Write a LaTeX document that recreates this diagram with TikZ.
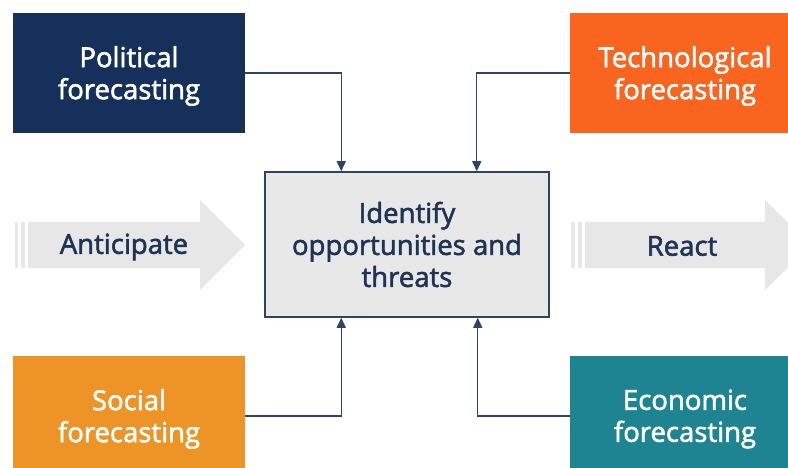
\documentclass[tikz,border=0pt]{standalone}
\usepackage{fontspec}
\setmainfont{Open Sans}
\newfontfamily\labelfont{Open Sans}[BoldFont={Open Sans}, BoldFeatures={FakeBold=2}]
\usetikzlibrary{arrows.meta}
\definecolor{navy}{HTML}{15305A}
\definecolor{linenavy}{HTML}{2D4468}
\definecolor{textnavy}{HTML}{1E3456}
\definecolor{techorange}{HTML}{F9641F}
\definecolor{socorange}{HTML}{EE9426}
\definecolor{ecoteal}{HTML}{1E8491}
\definecolor{coregray}{HTML}{E8E8E8}
\definecolor{arrowgray}{HTML}{E7E7E7}
\tikzset{
  x=1pt, y=-1pt,
  txt/.style={font=\labelfont\bfseries\fontsize{27.5}{32}\selectfont, align=center},
  forecast/.style={minimum width=232pt, minimum height=120pt, inner sep=0pt},
  boxtext/.style={txt, text=white, yshift=-3pt},
  core/.style={txt, text=textnavy, draw=linenavy, line width=1.5pt, fill=coregray,
    minimum width=284pt, minimum height=145pt, inner sep=0pt},
  conn/.style={draw=linenavy, line width=1.4pt, -{Triangle[length=10pt,width=9pt]}},
  bigarrow/.style={fill=arrowgray, draw=none},
  arrowtext/.style={txt, text=textnavy}
}
\begin{document}
\begin{tikzpicture}
\useasboundingbox (0,0) rectangle (788,468);
\fill[white] (0,0) rectangle (788,468);

% broad process arrows
\fill[arrowgray] (15,222) rectangle (18,268);
\fill[arrowgray] (21,222) rectangle (25,268);
\fill[bigarrow] (28,222) -- (200,222) -- (200,200) -- (245,245) -- (200,290) -- (200,268) -- (28,268) -- cycle;
\node[arrowtext] (anticipate) at (124,247) {Anticipate};

\fill[arrowgray] (571,222) rectangle (575,268);
\fill[arrowgray] (578,222) rectangle (582,268);
\fill[bigarrow] (585,222) -- (765,222) -- (765,200) -- (810,245) -- (765,290) -- (765,268) -- (585,268) -- cycle;
\node[arrowtext] (react) at (682,246) {React};

% central box
\node[core] (core) at (407,244.5) {Identify\\opportunities and\\threats};

% forecasting boxes
\node[forecast, fill=navy, label={[boxtext]center:Political\\forecasting}] (pol) at (129,73) {};
\node[forecast, fill=techorange, minimum width=230pt, label={[boxtext]center:Technological\\forecasting}] (tech) at (685,73) {};
\node[forecast, fill=socorange, label={[boxtext]center:Social\\forecasting}] (soc) at (129,416) {};
\node[forecast, fill=ecoteal, minimum width=230pt, label={[boxtext]center:Economic\\forecasting}] (eco) at (685,416) {};

% connectors into the central box
\draw[conn] (pol.east) -| ([xshift=77pt]core.north west);
\draw[conn] (tech.west) -| ([xshift=-73pt]core.north east);
\draw[conn] (soc.east) -| ([xshift=77pt]core.south west);
\draw[conn] (eco.west) -| ([xshift=-72pt]core.south east);
\end{tikzpicture}
\end{document}
